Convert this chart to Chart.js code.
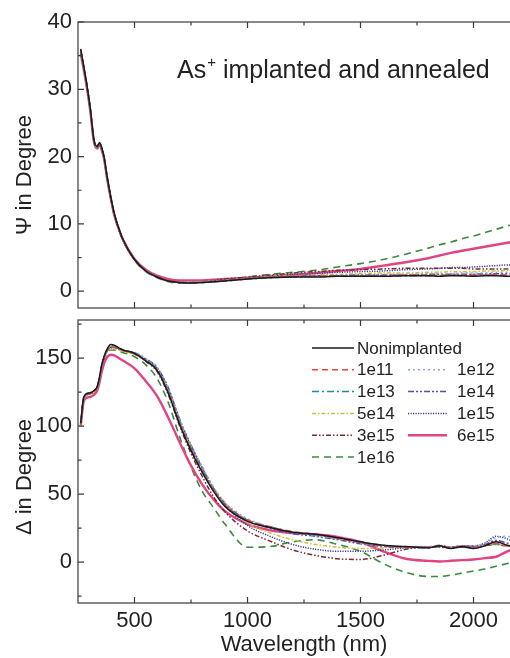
<!DOCTYPE html>
<html>
<head>
<meta charset="utf-8">
<script src="https://cdn.jsdelivr.net/npm/chart.js@4.4.0/dist/chart.umd.min.js"></script>
<style>
  html, body { margin: 0; padding: 0; background: #fff; }
  body { width: 510px; height: 658px; overflow: hidden; position: relative; }
  canvas { position: absolute; left: 0; }
  #psiChart { top: 0; width: 540px; height: 312px; }
  #deltaChart { top: 310px; width: 540px; height: 348px; }
</style>
</head>
<body>
<canvas id="psiChart" width="540" height="312"></canvas>
<canvas id="deltaChart" width="540" height="348"></canvas>
<script>
// wavelength grid (nm), shared by every curve
const wavelengths = [262, 275, 290, 305, 320, 335, 345, 355, 365, 380, 395, 410, 430, 450, 500, 550, 600, 650, 700, 750, 800, 850, 900, 1000, 1100, 1200, 1300, 1400, 1500, 1600, 1700, 1800, 1850, 1900, 1950, 2000, 2050, 2100, 2150, 2200];

const doses = ['Nonimplanted', '1e11', '1e12', '1e13', '1e14', '5e14', '1e15', '3e15', '6e15', '1e16'];

// Psi (degree)
const psiNon  = [36.0, 33.5, 30.5, 27.0, 22.6, 21.5, 22.1, 21.3, 20.0, 16.8, 14.0, 11.6, 9.4, 7.6, 4.7, 3.0, 2.1, 1.5, 1.3, 1.2, 1.3, 1.4, 1.5, 1.8, 2.0, 2.1, 2.1, 2.2, 2.2, 2.2, 2.3, 2.3, 2.2, 2.3, 2.3, 2.2, 2.3, 2.3, 2.2, 2.3];
const psi1e11 = [35.8, 33.4, 30.4, 26.9, 22.5, 21.4, 22.0, 21.2, 19.9, 16.7, 13.9, 11.5, 9.4, 7.6, 4.7, 3.0, 2.1, 1.5, 1.3, 1.2, 1.3, 1.4, 1.6, 1.9, 2.1, 2.2, 2.2, 2.3, 2.3, 2.3, 2.4, 2.4, 2.3, 2.4, 2.4, 2.4, 2.4, 2.5, 2.4, 2.4];
const psi1e12 = [35.6, 33.3, 30.3, 26.8, 22.4, 21.3, 22.0, 21.1, 19.8, 16.6, 13.9, 11.5, 9.3, 7.5, 4.7, 3.0, 2.1, 1.5, 1.3, 1.3, 1.4, 1.5, 1.6, 1.9, 2.1, 2.2, 2.3, 2.4, 2.4, 2.5, 2.5, 2.6, 2.6, 2.6, 2.7, 2.7, 2.7, 2.8, 2.8, 2.8];
const psi1e13 = [35.9, 33.5, 30.5, 27.0, 22.6, 21.5, 22.1, 21.3, 20.0, 16.8, 14.0, 11.6, 9.4, 7.6, 4.7, 3.0, 2.1, 1.5, 1.3, 1.2, 1.3, 1.4, 1.5, 1.8, 2.0, 2.1, 2.2, 2.2, 2.3, 2.3, 2.3, 2.3, 2.3, 2.4, 2.3, 2.3, 2.4, 2.4, 2.3, 2.4];
const psi1e14 = [35.7, 33.4, 30.4, 26.9, 22.5, 21.4, 22.0, 21.2, 19.9, 16.7, 13.9, 11.5, 9.3, 7.5, 4.7, 3.0, 2.1, 1.5, 1.3, 1.3, 1.3, 1.4, 1.6, 1.9, 2.1, 2.2, 2.3, 2.3, 2.4, 2.4, 2.4, 2.5, 2.5, 2.5, 2.5, 2.5, 2.6, 2.6, 2.6, 2.6];
const psi5e14 = [35.5, 33.2, 30.2, 26.8, 22.4, 21.3, 21.9, 21.1, 19.8, 16.6, 13.8, 11.4, 9.3, 7.5, 4.7, 3.0, 2.1, 1.5, 1.3, 1.3, 1.4, 1.5, 1.6, 1.9, 2.2, 2.3, 2.4, 2.5, 2.6, 2.7, 2.7, 2.8, 2.8, 2.9, 2.9, 2.9, 3.0, 3.0, 3.1, 3.1];
const psi1e15 = [35.4, 33.1, 30.2, 26.7, 22.3, 21.2, 21.9, 21.0, 19.7, 16.5, 13.8, 11.4, 9.2, 7.5, 4.7, 3.0, 2.1, 1.5, 1.3, 1.3, 1.4, 1.5, 1.7, 2.0, 2.3, 2.5, 2.6, 2.8, 2.9, 3.0, 3.2, 3.3, 3.4, 3.5, 3.5, 3.6, 3.7, 3.8, 3.9, 3.9];
const psi3e15 = [35.6, 33.3, 30.3, 26.8, 22.4, 21.3, 21.9, 21.1, 19.8, 16.6, 13.8, 11.4, 9.3, 7.5, 4.7, 3.0, 2.1, 1.5, 1.3, 1.3, 1.4, 1.6, 1.8, 2.1, 2.4, 2.7, 2.9, 3.1, 3.2, 3.3, 3.4, 3.4, 3.4, 3.4, 3.4, 3.3, 3.3, 3.3, 3.3, 3.3];
const psi6e15 = [35.3, 33.0, 30.1, 26.6, 22.3, 21.2, 21.8, 21.0, 19.7, 16.5, 13.8, 11.4, 9.3, 7.6, 4.8, 3.2, 2.3, 1.8, 1.6, 1.6, 1.6, 1.7, 1.8, 2.0, 2.2, 2.4, 2.7, 3.0, 3.3, 3.8, 4.3, 4.9, 5.3, 5.7, 6.0, 6.3, 6.6, 6.9, 7.2, 7.5];
const psi1e16 = [35.5, 33.2, 30.2, 26.7, 22.4, 21.3, 21.9, 21.1, 19.8, 16.6, 13.8, 11.4, 9.2, 7.5, 4.6, 2.9, 2.0, 1.4, 1.2, 1.2, 1.4, 1.5, 1.7, 2.1, 2.5, 2.8, 3.1, 3.6, 4.1, 4.7, 5.5, 6.4, 6.9, 7.3, 7.8, 8.2, 8.7, 9.2, 9.7, 10.2];

// Delta (degree)
const delNon  = [102, 121, 124, 124.5, 126, 129, 136, 145, 151, 157, 160, 159.5, 157.5, 156, 153.5, 148, 141, 124, 101, 82, 66, 52, 41, 30, 25.5, 22, 20.5, 18, 15, 12.5, 11.5, 10.5, 12, 10, 11.5, 10, 12, 15, 12.5, 11];
const del1e11 = [101, 120, 123.5, 124, 125.5, 128.5, 135, 144, 150, 156, 158.5, 158, 157, 155.5, 153, 148, 141, 125, 102, 83, 67, 53, 42, 31, 26, 22.5, 20.5, 17.5, 14.5, 12, 11, 11, 12.5, 10.5, 12, 11, 12.5, 14, 12, 12];
const del1e12 = [101, 120, 123, 124, 125.5, 128.5, 135, 144, 150, 156, 158, 158, 157, 156, 154, 149.5, 143, 128, 105, 86, 70, 55, 44, 32, 26, 22, 19.5, 17, 14, 12, 11.5, 11.5, 12, 11, 12, 12, 14, 18, 19, 15];
const del1e13 = [102, 121, 124, 124.5, 126, 129, 136, 145, 151, 156.5, 159.5, 159, 157.5, 156, 153.5, 148.5, 142, 126, 103, 84, 68, 53, 42, 31, 26, 22, 20, 17.5, 14.5, 12.5, 11, 10.5, 11.5, 10.5, 11, 10.5, 12, 13.5, 12, 11.5];
const del1e14 = [101, 120, 123, 124, 125.5, 128.5, 135, 144, 150, 155.5, 158, 158, 157, 156, 154, 149.5, 143, 128, 105, 86, 69, 54, 43, 31, 25, 21, 19, 16.5, 13.5, 11.5, 11, 11, 12, 11, 12, 11.5, 13, 16, 14, 12];
const del5e14 = [100, 119, 122.5, 123.5, 125, 128, 134, 143, 149, 154.5, 156.5, 156.5, 156, 155, 153, 148.5, 142, 127, 104, 86, 70, 55, 44, 29, 21.5, 16.5, 13, 11, 10, 10.5, 11, 11, 11.5, 11, 11.5, 11, 12, 13, 12, 11.5];
const del1e15 = [101, 120, 123, 124, 125.5, 128.5, 135, 144, 150, 155.5, 157.5, 157.5, 156.5, 155.5, 153.5, 149, 142.5, 127, 104, 85, 69, 54, 42, 27, 19, 13, 9.5, 8, 8, 9, 10.5, 11, 11.5, 11, 12, 12, 14, 19, 17, 13];
const del3e15 = [101, 120, 123, 124, 125.5, 128.5, 135, 144, 150, 156, 158, 158, 157, 155.5, 153, 147.5, 140, 123, 100, 80, 63, 48, 37, 23, 15.5, 9, 5, 2.5, 2, 5, 9.5, 11, 11, 10.5, 11, 11, 12, 13, 12, 12];
const del6e15 = [100, 118, 121, 121.5, 123, 126, 132, 140, 146, 151, 152.5, 152, 150, 148, 142.5, 133, 122, 106, 88, 71, 57, 46, 37.5, 28, 23.5, 21.5, 20.5, 18.5, 15, 8, 2.5, 1, 0.5, 1, 1.5, 2, 3, 4, 8, 11];
const del1e16 = [101, 120, 123, 123.5, 125, 128, 134, 143, 149, 154, 156, 156, 155, 154, 151, 145, 135, 117, 92, 70, 52, 40, 28, 11, 11.5, 15, 16.5, 13, 8, -1, -7.5, -10.5, -10.5, -9.5, -8, -6.5, -5, -3, -1, 1];

const psiSeries = [psiNon, psi1e11, psi1e12, psi1e13, psi1e14, psi5e14, psi1e15, psi3e15, psi6e15, psi1e16];
const delSeries = [delNon, del1e11, del1e12, del1e13, del1e14, del5e14, del1e15, del3e15, del6e15, del1e16];

// axis ticks
const xTicks = [500, 1000, 1500, 2000];
const xMinor = [750, 1250, 1750, 2250];
const psiTicks = [0, 10, 20, 30, 40];
const psiMinor = [5, 15, 25, 35];
const delTicks = [0, 50, 100, 150];
const delMinor = [-25, 25, 75, 125, 175];

const noteMain = 'As';
const noteSup = '+';
const noteRest = ' implanted and annealed';

const legendRows = [['Nonimplanted'], ['1e11', '1e12'], ['1e13', '1e14'], ['5e14', '1e15'], ['3e15', '6e15'], ['1e16']];

// line styles per dose
const styles = {
    'Nonimplanted': { color: '#1a1a1a', width: 1.5, dash: [] },
    '1e11': { color: '#e4483e', width: 1.5, dash: [6, 4] },
    '1e12': { color: '#8ea6dc', width: 1.5, dash: [2, 3] },
    '1e13': { color: '#1c8ca6', width: 1.5, dash: [7, 3, 2, 3] },
    '1e14': { color: '#5a4aa6', width: 1.5, dash: [6, 2, 2, 2, 2, 2] },
    '5e14': { color: '#c9c23c', width: 1.5, dash: [4, 2, 1.5, 2] },
    '1e15': { color: '#3c3c92', width: 1.5, dash: [1.2, 1.3] },
    '3e15': { color: '#7a2b2b', width: 1.5, dash: [5, 2, 1.5, 2, 1.5, 2] },
    '6e15': { color: '#e04482', width: 2.4, dash: [] },
    '1e16': { color: '#3a8a3e', width: 1.6, dash: [7, 5] }
};

const FONT = '"Liberation Sans", Arial, sans-serif';
Chart.defaults.font.family = FONT;
Chart.defaults.color = '#222';

function buildDatasets(series) {
    return doses.map((d, i) => ({
        label: d,
        data: wavelengths.map((w, j) => ({ x: w, y: series[i][j] })),
        borderColor: styles[d].color,
        borderWidth: styles[d].width,
        borderDash: styles[d].dash,
        pointRadius: 0,
        fill: false,
        cubicInterpolationMode: 'monotone'
    }));
}

const framePlugin = {
    id: 'frame',
    afterDatasetsDraw(chart, args, opts) {
        const { ctx, chartArea: a, scales: { x, y } } = chart;
        ctx.save();
        ctx.strokeStyle = '#3a3a3a';
        ctx.lineWidth = 1.2;
        ctx.strokeRect(a.left, a.top, a.right - a.left, a.bottom - a.top);
        ctx.beginPath();
        const xt = (v, len) => {
            const px = x.getPixelForValue(v);
            ctx.moveTo(px, a.top); ctx.lineTo(px, a.top + len);
            ctx.moveTo(px, a.bottom); ctx.lineTo(px, a.bottom - len);
        };
        const yt = (v, len) => {
            const py = y.getPixelForValue(v);
            ctx.moveTo(a.left, py); ctx.lineTo(a.left + len, py);
        };
        xTicks.forEach(v => xt(v, 6));
        xMinor.forEach(v => xt(v, 3.5));
        opts.yMajor.forEach(v => yt(v, 6));
        opts.yMinor.forEach(v => yt(v, 3.5));
        ctx.stroke();
        // rotated y title
        ctx.fillStyle = '#222';
        ctx.font = '22px ' + FONT;
        ctx.textAlign = 'center';
        ctx.textBaseline = 'middle';
        ctx.translate(25, opts.titleY);
        ctx.rotate(-Math.PI / 2);
        ctx.fillText(opts.title, 0, 0);
        ctx.restore();
    }
};

const notePlugin = {
    id: 'note',
    afterDraw(chart, args, opts) {
        if (!opts.show) return;
        const ctx = chart.ctx;
        ctx.save();
        ctx.fillStyle = '#222';
        ctx.textBaseline = 'alphabetic';
        let x = 177;
        const y = 78;
        ctx.font = '25px ' + FONT;
        ctx.fillText(noteMain, x, y);
        x += ctx.measureText(noteMain).width + 1;
        ctx.font = '15px ' + FONT;
        ctx.fillText(noteSup, x, y - 11);
        x += ctx.measureText(noteSup).width;
        ctx.font = '25px ' + FONT;
        ctx.fillText(noteRest, x, y);
        ctx.restore();
    }
};

const legendPlugin = {
    id: 'doseLegend',
    afterDraw(chart, args, opts) {
        if (!opts.show) return;
        const ctx = chart.ctx;
        ctx.save();
        ctx.font = '17px ' + FONT;
        ctx.textBaseline = 'middle';
        ctx.fillStyle = '#222';
        legendRows.forEach((row, r) => {
            const y = 38 + r * 21.8;
            row.forEach((label, c) => {
                const st = styles[label];
                const x0 = c === 0 ? 312 : 408;
                const x1 = c === 0 ? 354 : 447;
                ctx.strokeStyle = st.color;
                ctx.lineWidth = st.width;
                ctx.setLineDash(st.dash);
                ctx.beginPath();
                ctx.moveTo(x0, y);
                ctx.lineTo(x1, y);
                ctx.stroke();
                ctx.setLineDash([]);
                ctx.fillText(label, c === 0 ? 357 : 457, y + 1);
            });
        });
        ctx.restore();
    }
};

function makeChart(id, series, cfg) {
    const ctx = document.getElementById(id).getContext('2d');
    return new Chart(ctx, {
        type: 'line',
        data: { datasets: buildDatasets(series) },
        options: {
            responsive: false,
            animation: false,
            layout: { padding: { top: cfg.padTop, bottom: cfg.padBottom, left: 0, right: 10 } },
            plugins: {
                legend: { display: false },
                tooltip: { enabled: false },
                frame: { yMajor: cfg.yTicks, yMinor: cfg.yMinor, title: cfg.yTitle, titleY: cfg.titleY },
                note: { show: cfg.note },
                doseLegend: { show: cfg.legend }
            },
            scales: {
                x: {
                    type: 'linear',
                    min: 250,
                    max: 2250,
                    afterBuildTicks: scale => { scale.ticks = xTicks.map(v => ({ value: v })); },
                    afterFit: scale => {
                        scale.height = cfg.xHeight;
                        scale.paddingLeft = 0; scale.paddingRight = 0;
                    },
                    grid: { display: false, drawTicks: false },
                    border: { display: false },
                    ticks: {
                        display: cfg.xLabels,
                        padding: 5,
                        font: { size: 22 },
                        color: '#222',
                        maxRotation: 0,
                        callback: v => String(v)
                    },
                    title: {
                        display: cfg.xLabels,
                        text: 'Wavelength (nm)',
                        font: { size: 22 },
                        color: '#222',
                        padding: { top: 0, bottom: 0 }
                    }
                },
                y: {
                    min: cfg.yMin,
                    max: cfg.yMax,
                    afterBuildTicks: scale => { scale.ticks = cfg.yTicks.map(v => ({ value: v })); },
                    afterFit: scale => {
                        scale.width = 78;
                        scale.paddingTop = 0; scale.paddingBottom = 0;
                    },
                    grid: { display: false, drawTicks: false },
                    border: { display: false },
                    ticks: { padding: 6, font: { size: 22 }, color: '#222', callback: v => String(v) },
                    title: { display: false }
                }
            }
        },
        plugins: [framePlugin, notePlugin, legendPlugin]
    });
}

makeChart('psiChart', psiSeries, {
    padTop: 22, padBottom: 4, xHeight: 0, xLabels: false,
    yMin: -2.5, yMax: 40, yTicks: psiTicks, yMinor: psiMinor,
    yTitle: 'Ψ in Degree', titleY: 175, note: true, legend: false
});

makeChart('deltaChart', delSeries, {
    padTop: 10, padBottom: 0, xHeight: 55, xLabels: true,
    yMin: -30, yMax: 178, yTicks: delTicks, yMinor: delMinor,
    yTitle: 'Δ in Degree', titleY: 167, note: false, legend: true
});
</script>
</body>
</html>
